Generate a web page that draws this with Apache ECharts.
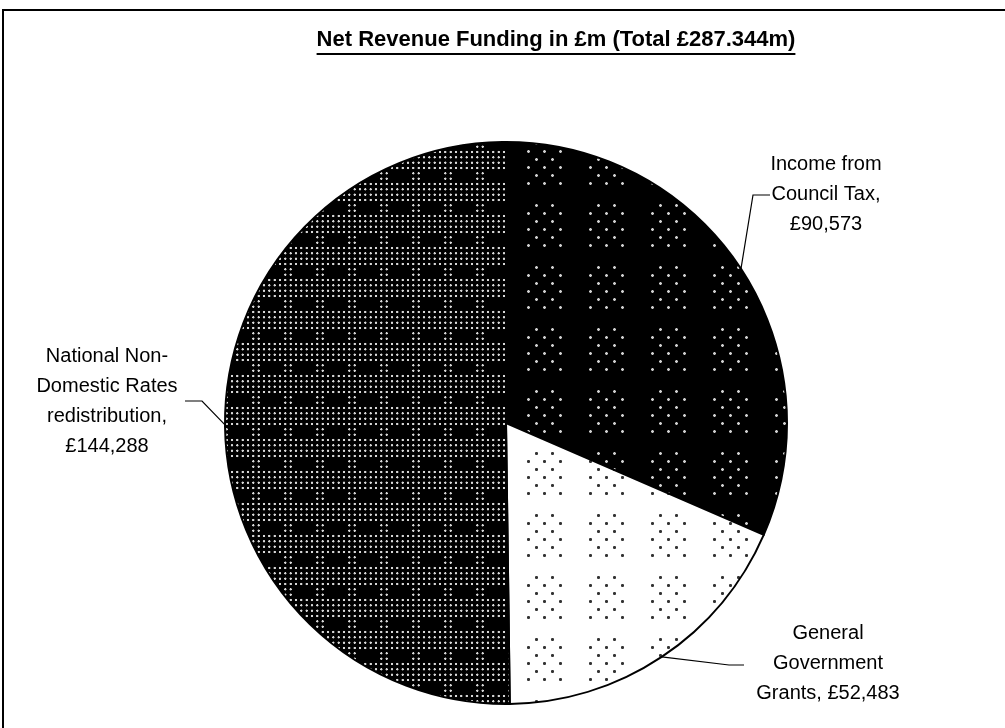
<!DOCTYPE html>
<html>
<head>
<meta charset="utf-8">
<script src="https://cdn.jsdelivr.net/npm/echarts@6/dist/echarts.min.js"></script>
<style>
  html, body { margin: 0; padding: 0; background: #fff; }
  #chart { width: 1005px; height: 728px; }
</style>
</head>
<body>
<div id="chart"></div>
<script>
// Funding sources (in £000s)
const categories = [
  'Income from\nCouncil Tax,',
  'General\nGovernment\nGrants,',
  'National Non-\nDomestic Rates\nredistribution,'
];
const values = [90573, 52483, 144288];
const valueLabels = ['£90,573', '£52,483', '£144,288'];
const titleText = 'Net Revenue Funding in £m (Total £287.344m)';

// ---- fill patterns ----
function dot(ctx, x, y, r, color) {
  const g = ctx.createRadialGradient(x, y, 0, x, y, r);
  g.addColorStop(0, color);
  g.addColorStop(0.55, color);
  g.addColorStop(1, 'rgba(0,0,0,0)');
  ctx.fillStyle = g;
  ctx.beginPath();
  ctx.arc(x, y, r, 0, Math.PI * 2);
  ctx.fill();
}

// sparse diamond clusters of dots, 62px period
function clusterPattern(bg, fg) {
  const T = 62;
  const c = document.createElement('canvas');
  c.width = T; c.height = T;
  const ctx = c.getContext('2d');
  ctx.fillStyle = bg;
  ctx.fillRect(0, 0, T, T);
  const ox = 32, oy = 19;
  for (let r = 0; r < 6; r++) {
    const xs = r % 2 === 0 ? [8, 24] : [0, 16, 32];
    xs.forEach(function (dx) {
      const x = (ox + dx) % T, y = (oy + r * 8) % T;
      [-T, 0, T].forEach(function (sx) {
        [-T, 0, T].forEach(function (sy) {
          dot(ctx, x + sx + 0.5, y + sy + 0.5, 2, fg);
        });
      });
    });
  }
  return c;
}

// dense dot grid broken by dark ovals, 32px period
function densePattern() {
  const T = 32;
  const c = document.createElement('canvas');
  c.width = T; c.height = T;
  const ctx = c.getContext('2d');
  ctx.fillStyle = '#000';
  ctx.fillRect(0, 0, T, T);
  const p = T / 6;
  for (let i = 0; i < 6; i++) {
    for (let j = 0; j < 6; j++) {
      const x = i * p + p / 2, y = j * p + p / 2;
      const dx = (x - T / 2) / 9, dy = (y - T / 2) / 7;
      if (dx * dx + dy * dy < 1) continue;
      dot(ctx, x, y, 1.7, '#d8d8d8');
    }
  }
  return c;
}

const fills = [
  { image: clusterPattern('#000', '#d0d0d0'), repeat: 'repeat' },
  { image: clusterPattern('#fff', '#333'), repeat: 'repeat' },
  { image: densePattern(), repeat: 'repeat' }
];

// ---- geometry ----
const pieCenter = [506, 423];
const pieRadius = 281;
const total = values.reduce(function (a, b) { return a + b; }, 0);

// label block centres, leader elbows and leader ends
const labelSpots = [
  { x: 826, y: 194, elbow: [753, 195], end: [770, 195] },
  { x: 828, y: 663, elbow: [729, 665], end: [744, 665] },
  { x: 107, y: 401, elbow: [202, 401], end: [185, 401] }
];

// point on the rim at the middle of slice idx
function midAnchor(idx) {
  let before = 0;
  for (let i = 0; i < idx; i++) before += values[i];
  const frac = (before + values[idx] / 2) / total;
  const ang = frac * Math.PI * 2; // clockwise from 12 o'clock
  return [pieCenter[0] + pieRadius * Math.sin(ang), pieCenter[1] - pieRadius * Math.cos(ang)];
}

// title and its underline
const titleFont = 'bold 22px "Liberation Sans", Arial, sans-serif';
const mctx = document.createElement('canvas').getContext('2d');
mctx.font = titleFont;
const titleW = mctx.measureText(titleText).width;
const titleX = 556, titleY = 40;

const chart = echarts.init(document.getElementById('chart'), null, { renderer: 'canvas' });

chart.setOption({
  animation: false,
  backgroundColor: '#fff',
  graphic: [
    {
      type: 'rect',
      shape: { x: 3, y: 10, width: 1200, height: 900 },
      style: { fill: 'none', stroke: '#000', lineWidth: 2 },
      silent: true
    },
    {
      type: 'text',
      x: titleX, y: titleY,
      style: {
        text: titleText,
        font: titleFont,
        fill: '#000',
        align: 'center',
        verticalAlign: 'middle'
      }
    },
    {
      type: 'line',
      shape: { x1: titleX - titleW / 2, y1: titleY + 14, x2: titleX + titleW / 2, y2: titleY + 14 },
      style: { stroke: '#000', lineWidth: 2 }
    }
  ],
  series: [{
    type: 'pie',
    center: pieCenter,
    radius: pieRadius,
    startAngle: 90,
    clockwise: true,
    avoidLabelOverlap: false,
    emphasis: { disabled: true },
    itemStyle: { borderColor: '#000', borderWidth: 2 },
    label: {
      show: true,
      position: 'outside',
      formatter: function (p) {
        return p.name + (p.dataIndex === 1 ? ' ' : '\n') + valueLabels[p.dataIndex];
      },
      color: '#000',
      fontFamily: '"Liberation Sans", Arial, sans-serif',
      fontSize: 20,
      lineHeight: 30,
      align: 'center'
    },
    labelLine: {
      show: true,
      length: 20,
      length2: 10,
      lineStyle: { color: '#000', width: 1.2 }
    },
    labelLayout: function (p) {
      const s = labelSpots[p.dataIndex];
      const a = midAnchor(p.dataIndex);
      return {
        x: s.x, y: s.y,
        align: 'center', verticalAlign: 'middle',
        labelLinePoints: [a, s.elbow, s.end]
      };
    },
    data: values.map(function (v, i) {
      return { value: v, name: categories[i], itemStyle: { color: fills[i] } };
    })
  }]
});
</script>
</body>
</html>
